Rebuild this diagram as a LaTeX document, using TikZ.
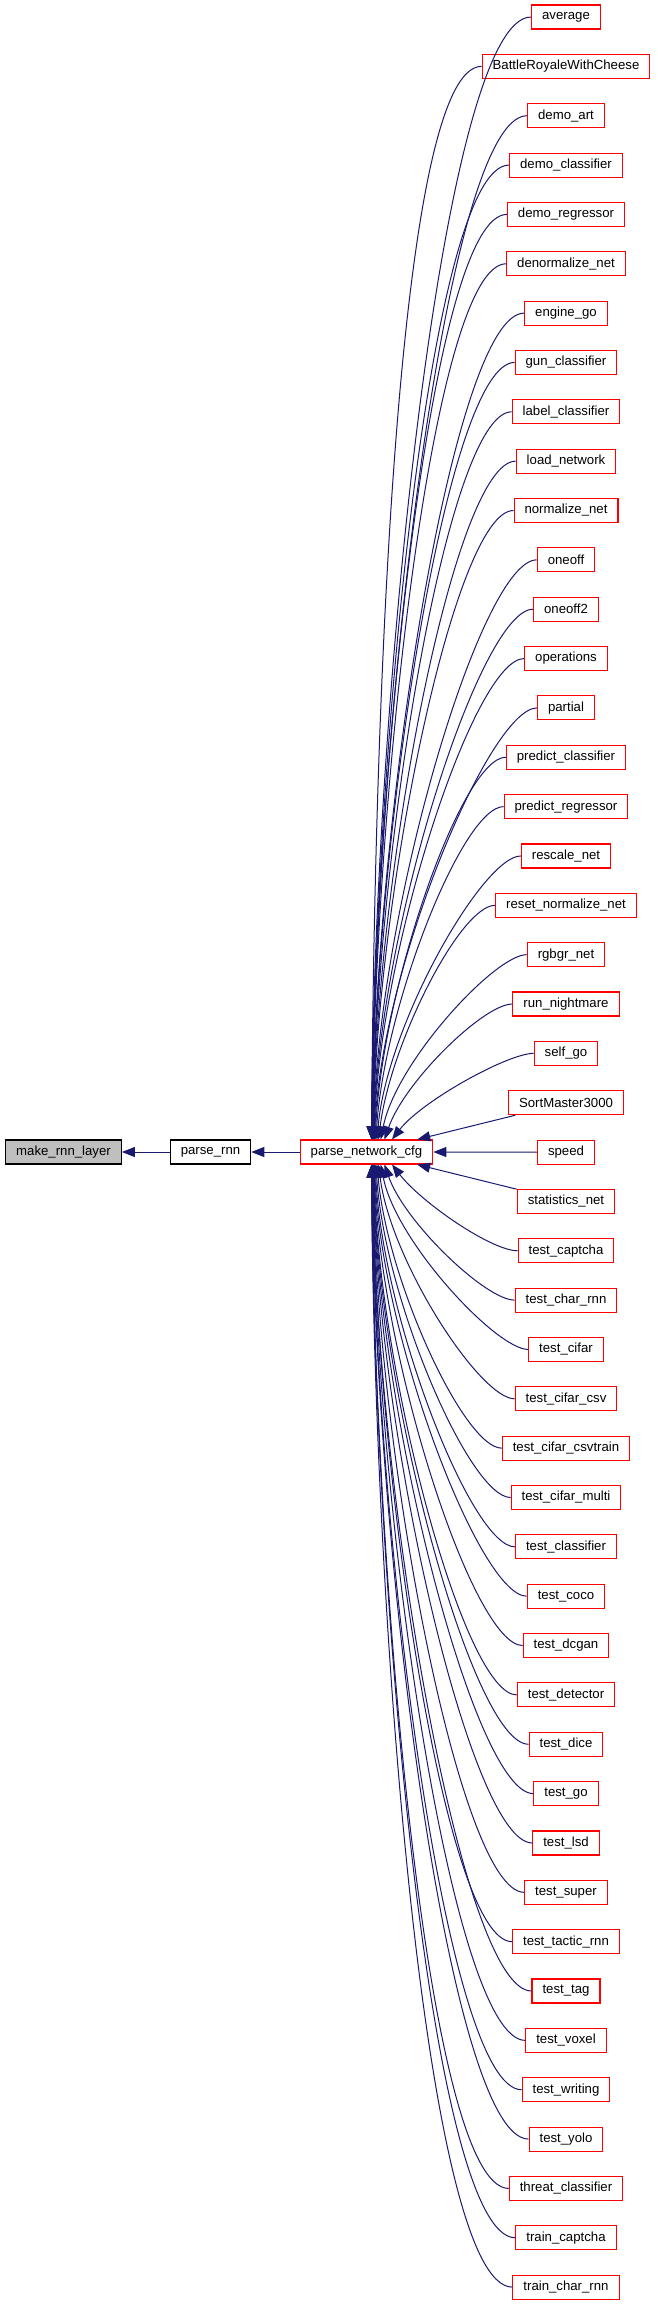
\documentclass[tikz,border=0pt]{standalone}
\usepackage{fontspec}
\setmainfont{Liberation Sans}
\usepackage{tikz}
\usetikzlibrary{arrows.meta,positioning}
\definecolor{edgeblue}{HTML}{191970}

\begin{document}
\begin{tikzpicture}[
  x=1pt,y=-1pt,
  fn/.style={draw=red,line width=1.1pt,fill=white,minimum height=24pt,inner xsep=10.5pt,inner ysep=0pt,
    font=\fontsize{13.2}{15}\selectfont},
  plain/.style={fn,draw=black},
  arr/.style={-{Triangle[length=13pt,width=10pt]},draw=edgeblue,line width=1pt},
]
  \useasboundingbox (0,0) rectangle (657,2305);

  % the function and its callers
  \node[plain,fill=black!25] (mk)  at (63.5,1152)  {make\_rnn\_layer};
  \node[plain]               (rnn) at (210.5,1152) {parse\_rnn};
  \node[fn]                  (cfg) at (366.5,1152) {parse\_network\_cfg};

  \draw[arr] (rnn) -- (mk);
  \draw[arr] (cfg) -- (rnn);

  % callers of parse_network_cfg
  \foreach \name [count=\i from 0] in {average,BattleRoyaleWithCheese,demo\_art,demo\_classifier,
      demo\_regressor,denormalize\_net,engine\_go,gun\_classifier,label\_classifier,load\_network,
      normalize\_net,oneoff,oneoff2,operations,partial,predict\_classifier,predict\_regressor,
      rescale\_net,reset\_normalize\_net,rgbgr\_net,run\_nightmare,self\_go,SortMaster3000,speed,
      statistics\_net,test\_captcha,test\_char\_rnn,test\_cifar,test\_cifar\_csv,test\_cifar\_csvtrain,
      test\_cifar\_multi,test\_classifier,test\_coco,test\_dcgan,test\_detector,test\_dice,test\_go,
      test\_lsd,test\_super,test\_tactic\_rnn,test\_tag,test\_voxel,test\_writing,test\_yolo,
      threat\_classifier,train\_captcha,train\_char\_rnn}
    \node[fn] (r\i) at (566,{17+\i*49.35}) {\name};

  \foreach \i in {0,...,46} {
    \pgfmathtruncatemacro\dlt{23-\i}
    \pgfmathsetmacro\ca{20+0.06*abs(\dlt)*49.35}
    \pgfmathsetmacro\cb{0.39*(\dlt)*49.35}
    \pgfmathsetmacro\kx{60/max(1,abs(\dlt))}
    \pgfmathsetmacro\sx{3+45/max(1,abs(\dlt))}
    \ifnum\dlt>1
      \draw[arr] (r\i.west) .. controls +(-\ca,0) and +(\kx,-\cb) .. ([xshift=\sx pt]cfg.north);
    \else\ifnum\dlt<-1
      \draw[arr] (r\i.west) .. controls +(-\ca,0) and +(\kx,-\cb) .. ([xshift=\sx pt]cfg.south);
    \else
      \draw[arr] (r\i) -- (cfg);
    \fi\fi
  }
\end{tikzpicture}
\end{document}
